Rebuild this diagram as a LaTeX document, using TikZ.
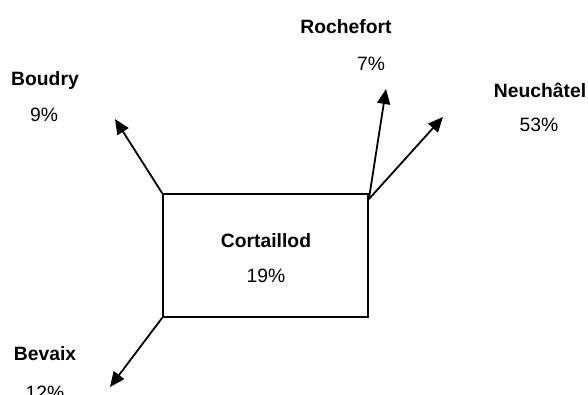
\documentclass[tikz,border=0pt]{standalone}
\usepackage{fontspec}
\setmainfont{Liberation Sans}
\usetikzlibrary{arrows.meta}
\begin{document}
\begin{tikzpicture}[x=1pt,y=-1pt,
  lbl/.style={font=\fontsize{19.3}{22}\selectfont\bfseries, anchor=base, inner sep=0pt},
  pct/.style={font=\fontsize{19.3}{22}\selectfont, anchor=base, inner sep=0pt},
  conn/.style={line width=1.8pt, -{Triangle[length=15pt,width=13pt]}},
  boxst/.style={draw, line width=1.8pt, minimum width=205pt, minimum height=123pt, inner sep=0pt}]
\clip (0,0) rectangle (588,394);
\fill[white] (0,0) rectangle (588,394);
\node[boxst] (cort) at (265.5,255.5) {};
\node[lbl] (cortn) at (266,247) {Cortaillod};
\node[pct] (cortp) at (266,282) {19\%};
\node[lbl] (boun) at (45,85) {Boudry};
\node[pct] (boup) at (44,121) {9\%};
\node[lbl] (rochn) at (346,33) {Rochefort};
\node[pct] (rochp) at (371,70) {7\%};
\node[lbl] (neun) at (540,97) {Neuchâtel};
\node[pct] (neup) at (539,131) {53\%};
\node[lbl] (bevn) at (45,360) {Bevaix};
\node[pct] (bevp) at (45,399) {12\%};
\coordinate (ne) at ([yshift=-6pt]cort.north east);
\coordinate (tboud) at (115,119);
\coordinate (troch) at (386,89);
\coordinate (tneu) at (443,117);
\coordinate (tbev) at (110,387);
\draw[conn] (cort.north west) -- (tboud);
\draw[conn] (ne) -- (troch);
\draw[conn] (ne) -- (tneu);
\draw[conn] (cort.south west) -- (tbev);
\end{tikzpicture}
\end{document}
